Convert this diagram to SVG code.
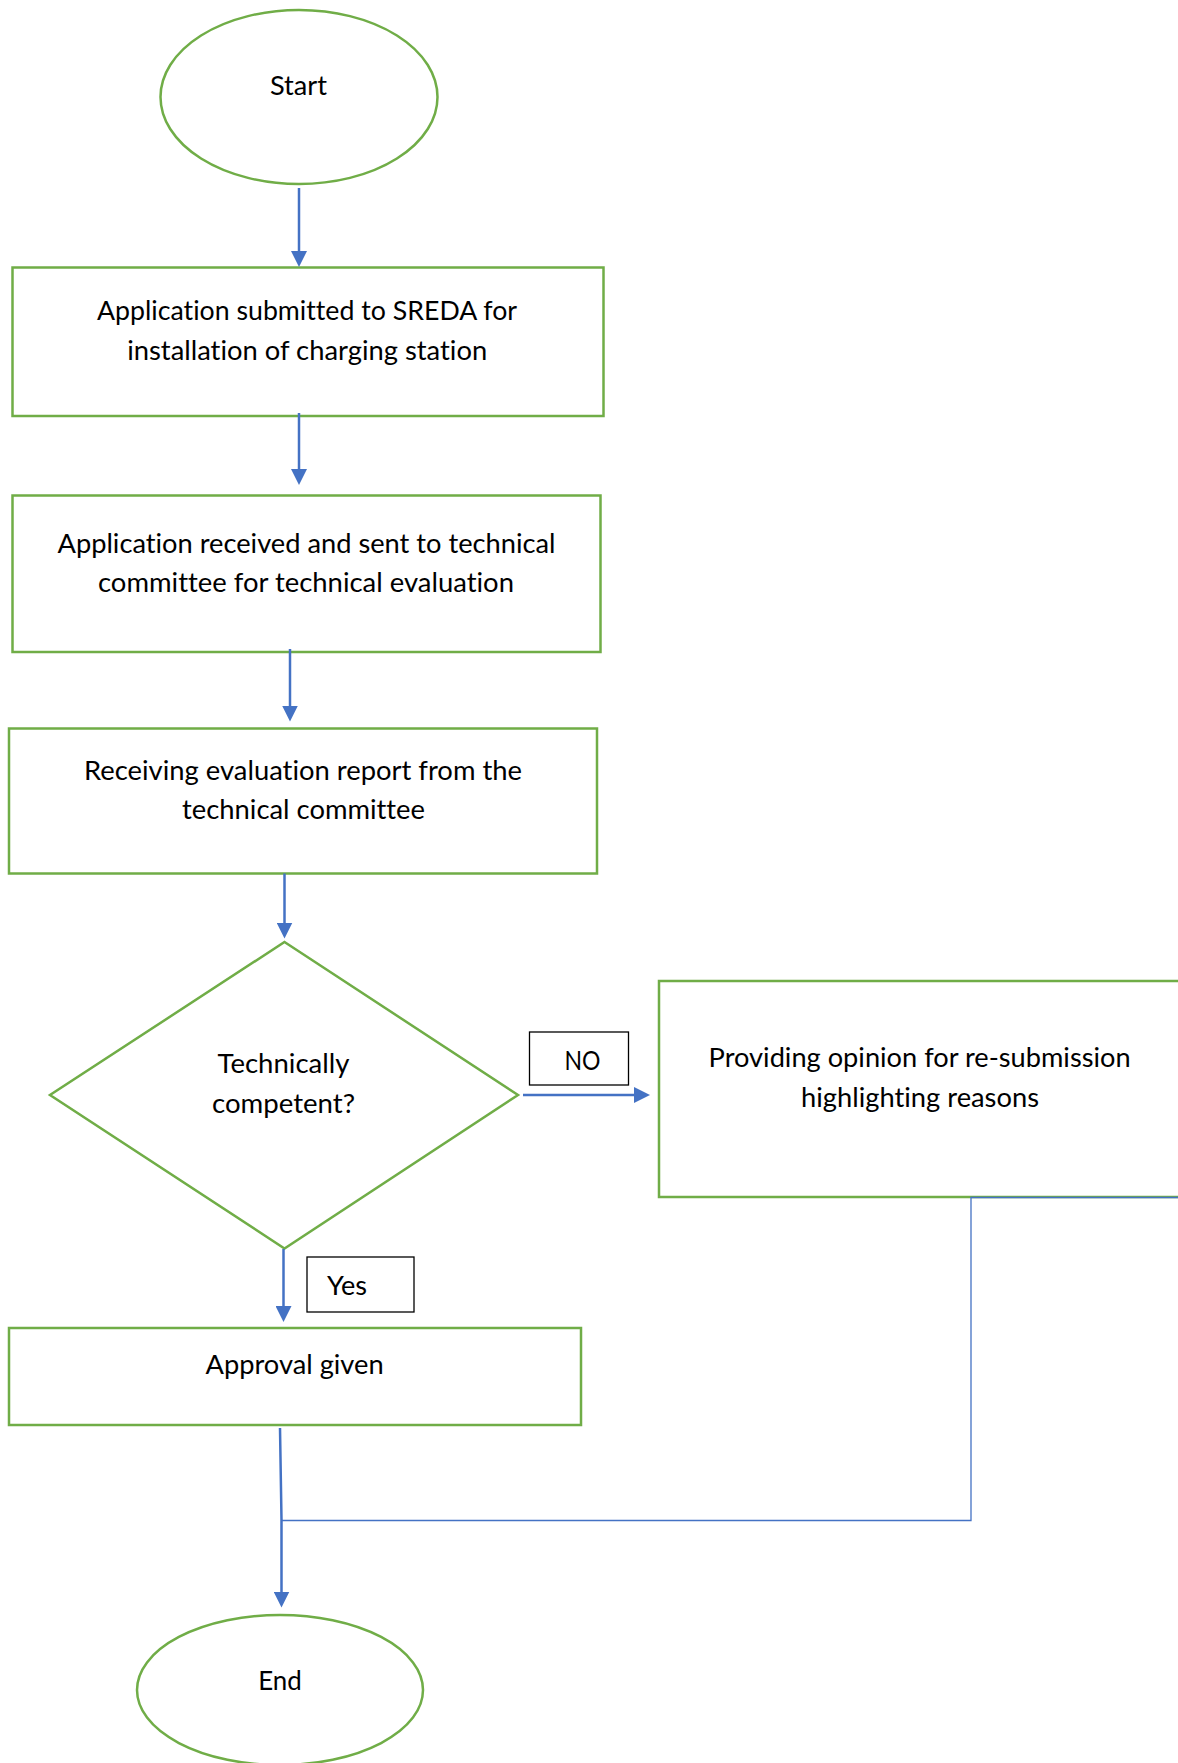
<svg xmlns="http://www.w3.org/2000/svg" width="1178" height="1763" viewBox="0 0 1178 1763">
  <style>
    .shape { fill: #ffffff; stroke: #70AD47; stroke-width: 2.5; }
    .label { fill: #ffffff; stroke: #000000; stroke-width: 1.3; }
    .t { font-family: Lato, "Open Sans", "Liberation Sans", sans-serif; font-size: 26.5px; fill: #000000; text-anchor: middle; font-variant-ligatures: none; }
    .ts { font-family: Lato, "Open Sans", "Liberation Sans", sans-serif; font-size: 26.5px; fill: #000000; text-anchor: start; font-variant-ligatures: none; }
    .conn { fill: none; stroke: #4472C4; stroke-width: 2.5; }
    .thin { fill: none; stroke: #4472C4; stroke-width: 1.3; }
  </style>
  <defs>
    <marker id="arrow" viewBox="0 0 16 16" refX="3" refY="8" markerWidth="16" markerHeight="16" markerUnits="userSpaceOnUse" orient="auto">
      <path d="M0,0 L16,8 L0,16 z" fill="#4472C4"/>
    </marker>
  </defs>
  <rect x="0" y="0" width="1178" height="1763" fill="#ffffff"/>

  <g id="start">
    <ellipse class="shape" cx="299" cy="97" rx="138.5" ry="87"/>
    <text class="t" x="298.5" y="95" textLength="57" lengthAdjust="spacingAndGlyphs">Start</text>
  </g>

  <g id="submit">
    <rect class="shape" x="12.5" y="267.5" width="591" height="148.5"/>
    <text class="t" x="307" y="320" textLength="420" lengthAdjust="spacingAndGlyphs">Application submitted to SREDA for</text>
    <text class="t" x="307.2" y="360" textLength="360" lengthAdjust="spacingAndGlyphs">installation of charging station</text>
  </g>

  <g id="received">
    <rect class="shape" x="12.5" y="495.5" width="588" height="156.5"/>
    <text class="t" x="306.5" y="552.5" textLength="498" lengthAdjust="spacingAndGlyphs">Application received and sent to technical</text>
    <text class="t" x="306" y="591.5" textLength="416" lengthAdjust="spacingAndGlyphs">committee for technical evaluation</text>
  </g>

  <g id="report">
    <rect class="shape" x="9" y="728.5" width="588" height="145"/>
    <text class="t" x="303" y="780" textLength="438" lengthAdjust="spacingAndGlyphs">Receiving evaluation report from the</text>
    <text class="t" x="303.5" y="818.5" textLength="243" lengthAdjust="spacingAndGlyphs">technical committee</text>
  </g>

  <g id="decision">
    <polygon class="shape" points="284.5,942 518,1095 284.5,1248.5 50,1095"/>
    <text class="t" x="283.5" y="1073" textLength="132" lengthAdjust="spacingAndGlyphs">Technically</text>
    <text class="t" x="283.5" y="1112.5" textLength="143" lengthAdjust="spacingAndGlyphs">competent?</text>
  </g>

  <g id="no-label">
    <rect class="label" x="529.5" y="1032" width="99" height="53"/>
    <text class="ts" x="564.5" y="1069.5" textLength="36" lengthAdjust="spacingAndGlyphs">NO</text>
  </g>

  <g id="resubmit">
    <rect class="shape" x="659" y="981" width="540" height="216"/>
    <text class="t" x="919.6" y="1067" textLength="422" lengthAdjust="spacingAndGlyphs">Providing opinion for re-submission</text>
    <text class="t" x="920" y="1106.5" textLength="238" lengthAdjust="spacingAndGlyphs">highlighting reasons</text>
  </g>

  <g id="yes-label">
    <rect class="label" x="307" y="1257" width="107" height="55"/>
    <text class="ts" x="327" y="1295" textLength="40" lengthAdjust="spacingAndGlyphs">Yes</text>
  </g>

  <g id="approval">
    <rect class="shape" x="9" y="1328" width="572" height="97"/>
    <text class="t" x="294.6" y="1374" textLength="178" lengthAdjust="spacingAndGlyphs">Approval given</text>
  </g>

  <g id="end">
    <ellipse class="shape" cx="280" cy="1690" rx="143" ry="75"/>
    <text class="t" x="280" y="1690" textLength="43.5" lengthAdjust="spacingAndGlyphs">End</text>
  </g>

  <g id="connectors">
    <line class="conn" x1="299" y1="188" x2="299" y2="254" marker-end="url(#arrow)"/>
    <line class="conn" x1="299" y1="413" x2="299" y2="472" marker-end="url(#arrow)"/>
    <line class="conn" x1="290" y1="649" x2="290" y2="708.5" marker-end="url(#arrow)"/>
    <line class="conn" x1="284.5" y1="873.5" x2="284.5" y2="925.5" marker-end="url(#arrow)"/>
    <line class="conn" x1="523" y1="1095" x2="637" y2="1095" marker-end="url(#arrow)"/>
    <line class="conn" x1="283.5" y1="1249" x2="283.5" y2="1309" marker-end="url(#arrow)"/>
    <path class="conn" d="M280,1428 L281.5,1520 L281.5,1594.5" marker-end="url(#arrow)"/>
    <path class="thin" d="M1178,1197.5 L971,1197.5 L971,1520.5 L281.5,1520.5"/>
  </g>
</svg>
